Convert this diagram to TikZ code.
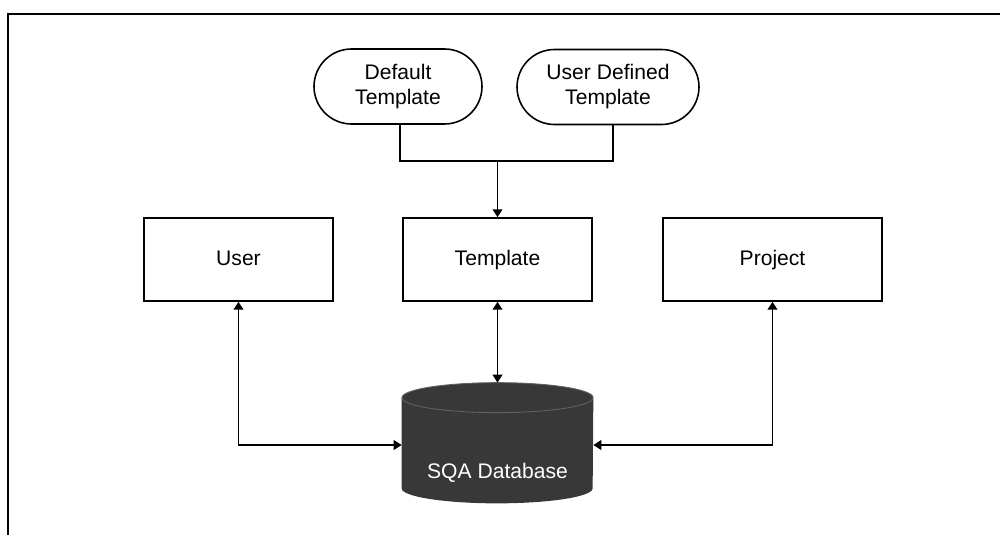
\documentclass[tikz,border=0pt]{standalone}
\usepackage{fontspec}
\setmainfont{Liberation Sans}
\usetikzlibrary{arrows.meta,shapes.misc}

\tikzset{
	entity/.style={rectangle, draw, line width=0.9pt, minimum height=1.66cm, inner sep=0pt, text height=1.8ex, text depth=0.5ex, font=\fontsize{12}{14}\selectfont},
	tmplsrc/.style={rounded rectangle, draw, line width=0.9pt, minimum height=1.5cm, inner sep=0pt, align=center, font=\fontsize{12}{14.2}\selectfont},
	flow/.style={line width=0.9pt},
	tip/.tip={Triangle[length=4.5pt,width=5.5pt]}
}

\begin{document}
\begin{tikzpicture}
	\useasboundingbox (0,0) rectangle (20,10.7);
	\fill[white] (0,0) rectangle (20,10.7);

	% page frame (left and top edges only)
	\draw[line width=1.1pt] (0.16,0) -- (0.16,10.42) -- (20,10.42);

	% template sources
	\draw (7.96,8.97) node (dtmpl) [tmplsrc, minimum width=3.36cm] {Default\\Template};
	\draw (12.16,8.96) node (udtmpl) [tmplsrc, minimum width=3.64cm] {User Defined\\Template};

	% main entities
	\draw (4.77,5.51) node (user) [entity, minimum width=3.78cm] {User};
	\draw (9.95,5.51) node (tmpl) [entity, minimum width=3.78cm] {Template};
	\draw (15.45,5.51) node (proj) [entity, minimum width=4.38cm] {Project};

	% database cylinder
	\draw (9.95,1.84) node (db) [rectangle, minimum width=3.82cm, minimum height=2.4cm, inner sep=0pt] {};
	\fill[black!78] ([yshift=-0.3cm]db.north west) -- ([yshift=0.3cm]db.south west)
		arc[start angle=180, end angle=360, x radius=1.91cm, y radius=0.3cm]
		-- ([yshift=-0.3cm]db.north east)
		arc[start angle=0, end angle=180, x radius=1.91cm, y radius=0.3cm] -- cycle;
	\draw[black!62, line width=0.5pt] ([yshift=-0.3cm]db.north) ellipse[x radius=1.91cm, y radius=0.3cm];
	\draw ([yshift=-0.6cm]db.center) node (dblabel) [white, font=\fontsize{12}{14}\selectfont] {SQA Database};

	% template merge
	\coordinate (merge) at (9.95,7.48);
	\draw[flow] ([xshift=0.04cm]dtmpl.south) |- (merge);
	\draw[flow] ([xshift=0.1cm]udtmpl.south) |- (merge);
	\draw[flow, -tip] (merge) -- (tmpl.north);

	% links to the database
	\draw[flow, tip-tip] (tmpl.south) -- (db.north);
	\draw[flow, tip-tip] (user.south) |- ([yshift=-0.04cm]db.west);
	\draw[flow, tip-tip] (proj.south) |- ([yshift=-0.04cm]db.east);
\end{tikzpicture}
\end{document}
